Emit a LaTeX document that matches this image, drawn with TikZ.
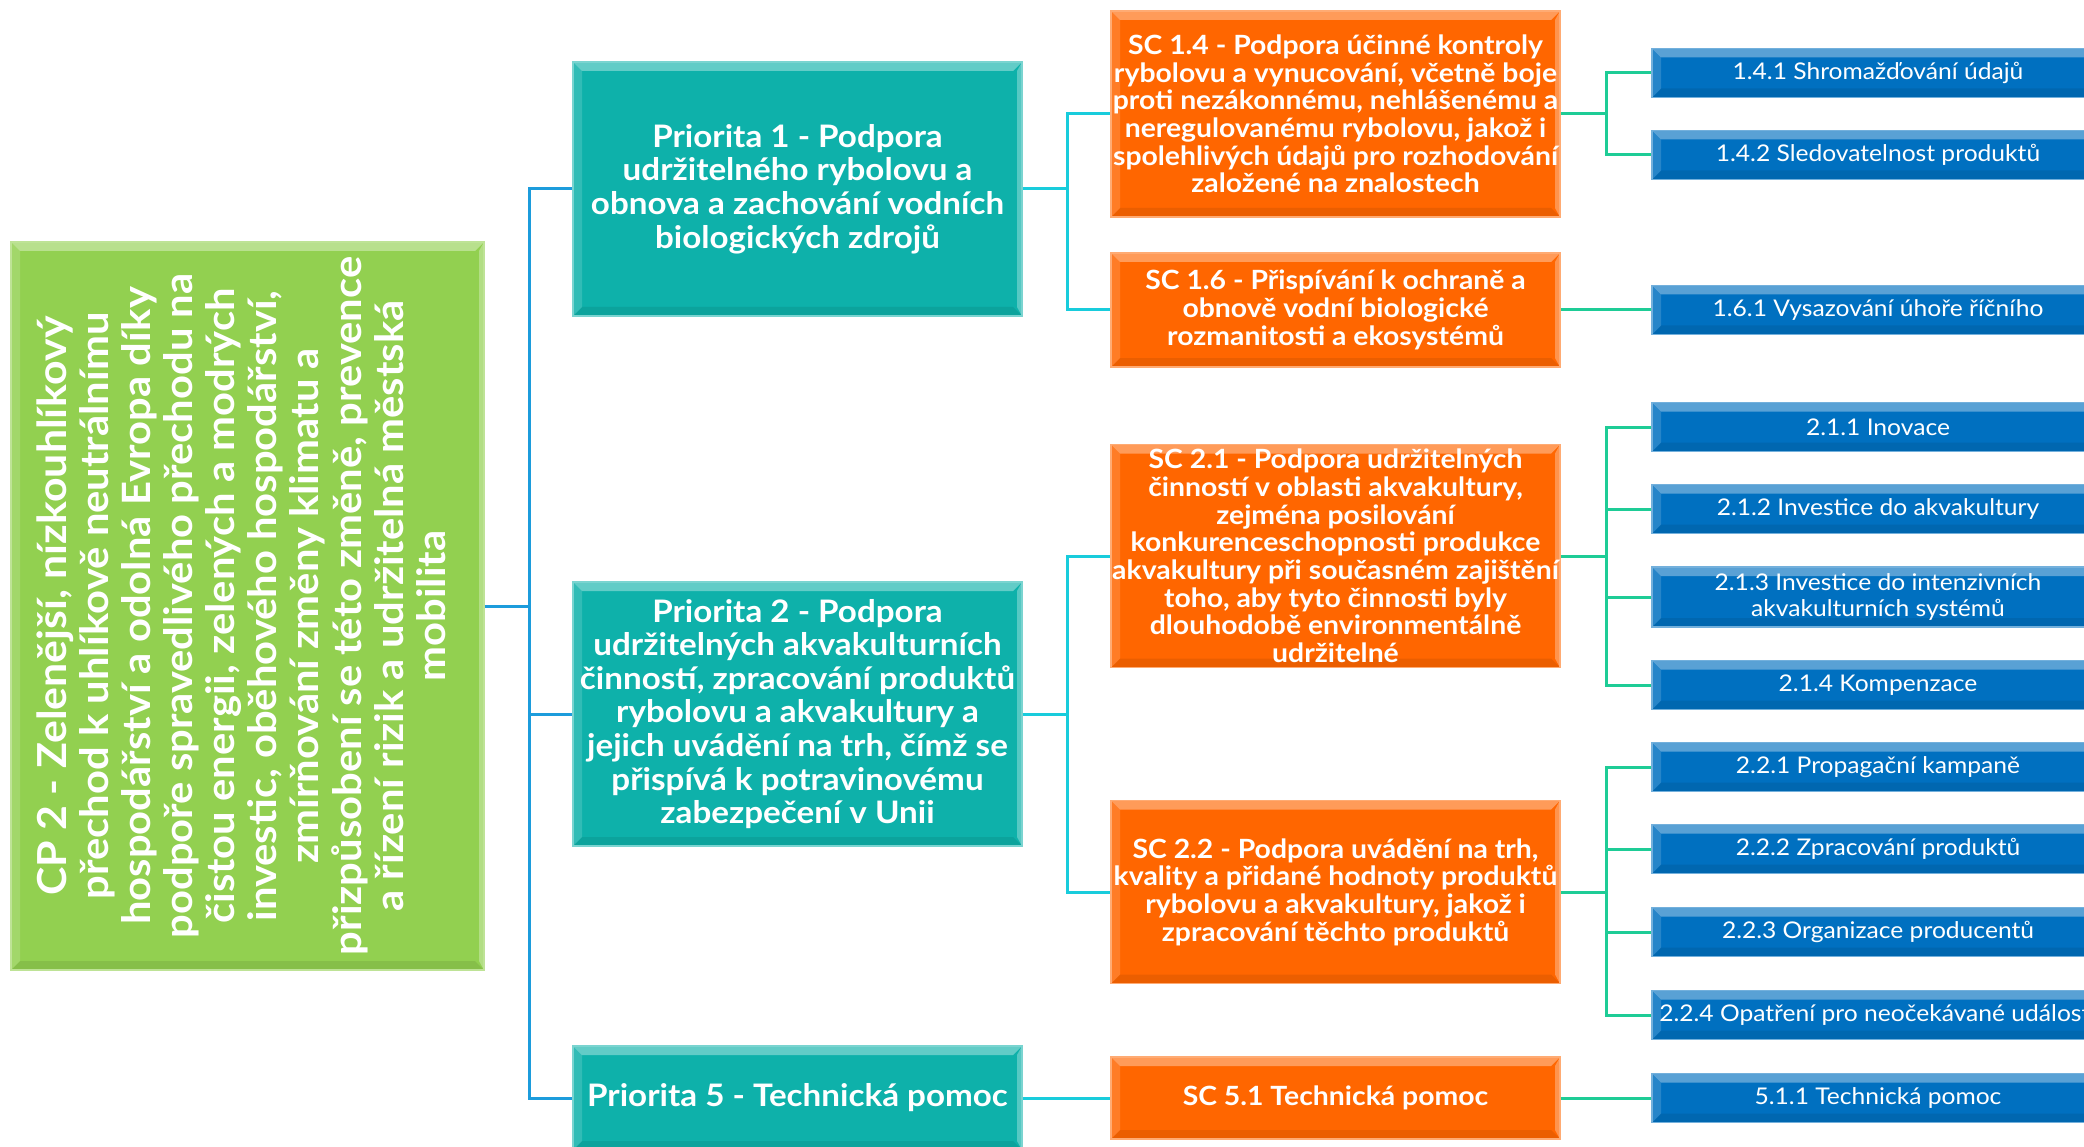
\documentclass[tikz,border=0pt]{standalone}
\usepackage{fontspec}
\setmainfont{Lato}[FakeStretch=1.07]
\usepackage{graphicx}
\usepackage{tikz}
\usetikzlibrary{positioning,calc}
\definecolor{cpgreen}{HTML}{92D050}
\definecolor{prioteal}{HTML}{0EB1AA}
\definecolor{scorange}{HTML}{FF6600}
\definecolor{measureblue}{HTML}{0070C0}
\definecolor{linkblue}{HTML}{1C9CDC}
\definecolor{linkcyan}{HTML}{18CCDC}
\definecolor{linkgreen}{HTML}{1ECC96}
\tikzstyle{bevel} = [path picture={
  \fill[white,opacity=.35] (path picture bounding box.north west) -- (path picture bounding box.north east) -- ([xshift=-9pt,yshift=-9pt]path picture bounding box.north east) -- ([xshift=9pt,yshift=-9pt]path picture bounding box.north west) -- cycle;
  \fill[white,opacity=.15] (path picture bounding box.north west) -- ([xshift=9pt,yshift=-9pt]path picture bounding box.north west) -- ([xshift=9pt,yshift=9pt]path picture bounding box.south west) -- (path picture bounding box.south west) -- cycle;
  \fill[black,opacity=.08] (path picture bounding box.south west) -- ([xshift=9pt,yshift=9pt]path picture bounding box.south west) -- ([xshift=-9pt,yshift=9pt]path picture bounding box.south east) -- (path picture bounding box.south east) -- cycle;
  \fill[white,opacity=.3] (path picture bounding box.north east) -- ([xshift=-5pt,yshift=-9pt]path picture bounding box.north east) -- ([xshift=-5pt,yshift=9pt]path picture bounding box.south east) -- (path picture bounding box.south east) -- cycle;
}]
\tikzstyle{cpbox} = [rectangle, bevel, fill=cpgreen, draw=cpgreen!60!white, line width=1.2pt, text=white, inner sep=0pt, minimum width=473pt, minimum height=728pt]
\tikzstyle{priority} = [rectangle, bevel, fill=prioteal, draw=prioteal!55!white, line width=1.2pt, text=white, align=center, inner sep=0pt, minimum width=449pt, font=\fontsize{31}{33.6}\selectfont\bfseries]
\tikzstyle{goal} = [rectangle, bevel, fill=scorange, draw=scorange!55!white, line width=1.2pt, text=white, align=center, inner sep=0pt, minimum width=449pt, font=\fontsize{26.5}{27.7}\selectfont\bfseries]
\tikzstyle{measure} = [rectangle, bevel, fill=measureblue, draw=measureblue!55!white, line width=1.2pt, text=white, align=center, inner sep=0pt, minimum width=452pt, minimum height=49pt, font=\fontsize{23}{26}\selectfont]
\tikzstyle{line} = [draw, line width=3pt]

\begin{document}
\begin{tikzpicture}[x=1pt, y=-1pt, auto]
  \useasboundingbox (0,0) rectangle (2084,1147);
  \clip (0,0) rectangle (2084,1147);

  \node[cpbox] (cp) at (247.5,606) {\rotatebox{90}{\fontsize{39}{42}\selectfont\bfseries
    \begin{tabular}{@{}c@{}}
      {\fontsize{40}{42}\selectfont CP 2 - Zelenější, nízkouhlíkový}\\
      přechod k uhlíkově neutrálnímu\\
      hospodářství a odolná Evropa díky\\
      podpoře spravedlivého přechodu na\\
      čistou energii, zelených a modrých\\
      investic, oběhového hospodářství,\\
      zmírňování změny klimatu a\\
      přizpůsobení se této změně, prevence\\
      a řízení rizik a udržitelná městská\\
      mobilita
    \end{tabular}}};

  \node[priority, minimum height=254pt] (priority1) at (797.5,189) {Priorita 1 - Podpora\\udržitelného rybolovu a\\obnova a zachování vodních\\biologických zdrojů};
  \node[priority, minimum height=264pt] (priority2) at (797.5,714) {Priorita 2 - Podpora\\udržitelných akvakulturních\\činností, zpracování produktů\\rybolovu a akvakultury a\\jejich uvádění na trh, čímž se\\přispívá k potravinovému\\zabezpečení v Unii};
  \node[priority, minimum height=104pt] (priority5) at (797.5,1098) {Priorita 5 - Technická pomoc};

  \node[goal, minimum height=206pt] (sc14) at (1335.5,114) {SC 1.4 - Podpora účinné kontroly\\rybolovu a vynucování, včetně boje\\proti nezákonnému, nehlášenému a\\neregulovanému rybolovu, jakož i\\spolehlivých údajů pro rozhodování\\založené na znalostech};
  \node[goal, minimum height=114pt] (sc16) at (1335.5,310) {SC 1.6 - Přispívání k ochraně a\\obnově vodní biologické\\rozmanitosti a ekosystémů};
  \node[goal, minimum height=223pt] (sc21) at (1335.5,556) {SC 2.1 - Podpora udržitelných\\činností v oblasti akvakultury,\\zejména posilování\\konkurenceschopnosti produkce\\akvakultury při současném zajištění\\toho, aby tyto činnosti byly\\dlouhodobě environmentálně\\udržitelné};
  \node[goal, minimum height=183pt] (sc22) at (1335.5,892) {SC 2.2 - Podpora uvádění na trh,\\kvality a přidané hodnoty produktů\\rybolovu a akvakultury, jakož i\\zpracování těchto produktů};
  \node[goal, minimum height=82pt] (sc51) at (1335.5,1098) {SC 5.1 Technická pomoc};

  \node[measure] (m141) at (1878,73) {1.4.1 Shromažďování údajů};
  \node[measure] (m142) at (1878,155) {1.4.2 Sledovatelnost produktů};
  \node[measure] (m161) at (1878,310) {1.6.1 Vysazování úhoře říčního};
  \node[measure] (m211) at (1878,427) {2.1.1 Inovace};
  \node[measure] (m212) at (1878,509) {2.1.2 Investice do akvakultury};
  \node[measure, minimum height=60pt] (m213) at (1878,597) {2.1.3 Investice do intenzivních\\akvakulturních systémů};
  \node[measure] (m214) at (1878,685) {2.1.4 Kompenzace};
  \node[measure] (m221) at (1878,767) {2.2.1 Propagační kampaně};
  \node[measure] (m222) at (1878,849) {2.2.2 Zpracování produktů};
  \node[measure] (m223) at (1878,932) {2.2.3 Organizace producentů};
  \node[measure] (m224) at (1878,1015) {2.2.4 Opatření pro neočekávané události};
  \node[measure] (m511) at (1878,1098) {5.1.1 Technická pomoc};

  \path[line, linkblue] (cp.east) -- ++(45,0) coordinate (trunk1) |- (priority1.west);
  \path[line, linkblue] (trunk1) |- (priority2.west);
  \path[line, linkblue] (trunk1) |- (priority5.west);

  \path[line, linkcyan] (priority1.east) -- ++(45,0) coordinate (trunk2a) |- (sc14.west);
  \path[line, linkcyan] (trunk2a) |- (sc16.west);
  \path[line, linkcyan] (priority2.east) -- ++(45,0) coordinate (trunk2b) |- (sc21.west);
  \path[line, linkcyan] (trunk2b) |- (sc22.west);
  \path[line, linkcyan] (priority5.east) -- (sc51.west);

  \path[line, linkgreen] (sc14.east) -- ++(46,0) coordinate (trunk3a) |- (m141.west);
  \path[line, linkgreen] (trunk3a) |- (m142.west);
  \path[line, linkgreen] (sc16.east) -- (m161.west);
  \path[line, linkgreen] (sc21.east) -- ++(46,0) coordinate (trunk3b) |- (m211.west);
  \path[line, linkgreen] (trunk3b) |- (m212.west);
  \path[line, linkgreen] (trunk3b) |- (m213.west);
  \path[line, linkgreen] (trunk3b) |- (m214.west);
  \path[line, linkgreen] (sc22.east) -- ++(46,0) coordinate (trunk3c) |- (m221.west);
  \path[line, linkgreen] (trunk3c) |- (m222.west);
  \path[line, linkgreen] (trunk3c) |- (m223.west);
  \path[line, linkgreen] (trunk3c) |- (m224.west);
  \path[line, linkgreen] (sc51.east) -- (m511.west);
\end{tikzpicture}
\end{document}
